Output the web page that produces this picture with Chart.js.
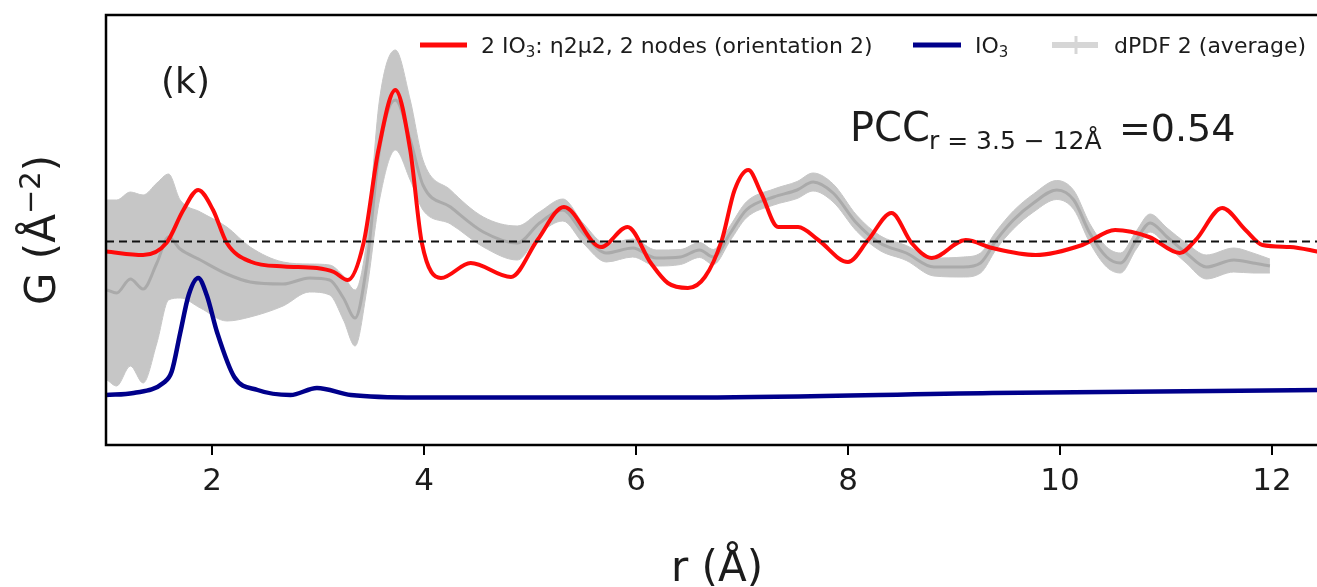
<!DOCTYPE html>
<html>
<head>
<meta charset="utf-8">
<script src="https://cdn.jsdelivr.net/npm/chart.js@4.4.1/dist/chart.umd.min.js"></script>
<style>
  html, body { margin: 0; padding: 0; background: #fff; overflow: hidden; }
  canvas { display: block; }
</style>
</head>
<body>
<canvas id="pdf" width="1340" height="587"></canvas>
<script>
// r (Å) and G values (G in arbitrary units, 0 = dashed line)
const redR = [1.00,1.35,1.57,1.73,1.87,2.01,2.14,2.36,2.68,2.99,3.15,3.28,3.43,3.57,3.73,3.87,3.98,4.16,4.44,4.82,5.07,5.32,5.67,5.92,6.14,6.30,6.49,6.65,6.81,6.93,7.06,7.18,7.34,7.53,7.72,8.00,8.19,8.41,8.60,8.79,9.11,9.36,9.77,10.21,10.52,10.84,11.13,11.28,11.53,11.75,11.91,12.17,12.45];
const redG = [-0.20,-0.27,-0.03,0.63,1.03,0.63,-0.03,-0.40,-0.50,-0.53,-0.61,-0.77,-0.03,1.83,3.03,1.83,-0.03,-0.73,-0.43,-0.71,0.03,0.69,-0.11,0.29,-0.43,-0.83,-0.93,-0.71,0.03,1.03,1.43,0.97,0.29,0.29,0.03,-0.41,0.03,0.57,-0.03,-0.33,0.03,-0.13,-0.27,-0.07,0.23,0.09,-0.23,0.03,0.67,0.23,-0.07,-0.11,-0.21];

const blueR = [1.00,1.26,1.54,1.62,1.70,1.78,1.87,1.95,2.05,2.21,2.43,2.74,2.99,3.31,3.94,6.62,9.36,12.45];
const blueG = [-3.07,-3.03,-2.83,-2.60,-1.83,-1.07,-0.73,-1.07,-1.83,-2.71,-2.97,-3.07,-2.93,-3.07,-3.12,-3.12,-3.03,-2.97];

const dpdfR = [1.01,1.10,1.23,1.35,1.48,1.59,1.70,1.89,2.14,2.36,2.67,2.92,3.11,3.24,3.35,3.46,3.58,3.73,3.87,3.99,4.25,4.56,4.88,5.09,5.31,5.50,5.72,5.97,6.19,6.42,6.60,6.73,6.89,7.04,7.30,7.52,7.67,7.86,8.08,8.30,8.55,8.81,9.09,9.25,9.40,9.56,9.75,9.97,10.13,10.28,10.44,10.57,10.72,10.85,11.01,11.19,11.38,11.64,11.82,11.98];
const dpdfG = [-0.97,-1.03,-0.75,-0.95,-0.43,0.09,-0.15,-0.37,-0.65,-0.81,-0.85,-0.73,-0.77,-1.13,-1.53,-0.47,1.83,2.83,2.03,1.13,0.69,0.19,-0.03,0.37,0.63,0.17,-0.23,-0.13,-0.33,-0.31,-0.17,-0.31,0.17,0.63,0.89,1.03,1.19,0.97,0.37,-0.03,-0.23,-0.51,-0.51,-0.43,0.03,0.43,0.77,1.03,0.83,0.17,-0.31,-0.43,0.03,0.37,0.09,-0.23,-0.51,-0.37,-0.43,-0.49];
const dpdfErr = [1.80,1.86,1.74,1.88,1.60,1.26,0.98,0.96,0.94,0.70,0.44,0.28,0.30,0.44,0.56,0.50,1.00,1.00,0.80,0.50,0.34,0.30,0.34,0.22,0.22,0.20,0.18,0.18,0.16,0.15,0.15,0.15,0.15,0.16,0.16,0.17,0.18,0.18,0.16,0.15,0.15,0.18,0.20,0.20,0.18,0.18,0.18,0.19,0.19,0.19,0.20,0.20,0.18,0.18,0.18,0.20,0.24,0.24,0.20,0.14];

const xTicks = [2, 4, 6, 8, 10, 12];

const FONT = '"DejaVu Sans", "Liberation Sans", sans-serif';
const INK = '#1c1c1c';
const RED = '#ff0a0a';
const BLUE = '#00008b';
const BAND = '#c6c6c6';
const MEAN = '#aaaaaa';

const pts = (xs, ys) => xs.map((x, i) => ({ x: x, y: ys[i] }));

// draw a run of text pieces with different sizes / baseline shifts
function drawParts(ctx, x, y, parts) {
    for (const p of parts) {
        ctx.font = p.size + 'px ' + FONT;
        ctx.fillText(p.t, x, y + (p.dy || 0));
        x += ctx.measureText(p.t).width;
    }
    return x;
}
function partsWidth(ctx, parts) {
    let w = 0;
    for (const p of parts) {
        ctx.font = p.size + 'px ' + FONT;
        w += ctx.measureText(p.t).width;
    }
    return w;
}

const decorPlugin = {
    id: 'decor',
    afterDatasetsDraw(chart) {
        const { ctx, chartArea: a, scales: { y } } = chart;
        const y0 = y.getPixelForValue(0);
        ctx.save();
        ctx.strokeStyle = '#111';
        ctx.lineWidth = 2;
        ctx.setLineDash([8, 5]);
        ctx.beginPath();
        ctx.moveTo(a.left, y0);
        ctx.lineTo(a.right, y0);
        ctx.stroke();
        ctx.restore();
    },
    afterDraw(chart) {
        const { ctx, chartArea: a } = chart;
        ctx.save();
        // frame (right edge falls outside the window)
        ctx.strokeStyle = '#000';
        ctx.lineWidth = 2.5;
        ctx.beginPath();
        ctx.moveTo(a.right + 5, a.top);
        ctx.lineTo(a.left, a.top);
        ctx.lineTo(a.left, a.bottom);
        ctx.lineTo(a.right + 5, a.bottom);
        ctx.stroke();

        ctx.fillStyle = INK;
        ctx.textBaseline = 'alphabetic';

        // panel tag
        ctx.font = '36px ' + FONT;
        ctx.fillText('(k)', 161, 93);

        // legend
        ctx.lineCap = 'butt';
        ctx.lineWidth = 5;
        ctx.strokeStyle = RED;
        ctx.beginPath(); ctx.moveTo(420, 45); ctx.lineTo(467, 45); ctx.stroke();
        drawParts(ctx, 481, 53, [
            { t: '2 IO', size: 22 }, { t: '3', size: 15, dy: 4 },
            { t: ': η2μ2, 2 nodes (orientation 2)', size: 22 }
        ]);
        ctx.strokeStyle = BLUE;
        ctx.beginPath(); ctx.moveTo(913, 45); ctx.lineTo(961, 45); ctx.stroke();
        drawParts(ctx, 975, 53, [{ t: 'IO', size: 22 }, { t: '3', size: 15, dy: 4 }]);
        ctx.strokeStyle = '#d6d6d6';
        ctx.lineWidth = 6;
        ctx.beginPath(); ctx.moveTo(1052, 45); ctx.lineTo(1098, 45); ctx.stroke();
        ctx.lineWidth = 3;
        ctx.beginPath(); ctx.moveTo(1076, 36); ctx.lineTo(1076, 54); ctx.stroke();
        drawParts(ctx, 1114, 53, [{ t: 'dPDF 2 (average)', size: 22 }]);

        // correlation annotation
        drawParts(ctx, 850, 141, [{ t: 'PCC', size: 40 }]);
        drawParts(ctx, 929, 149, [{ t: 'r = 3.5 − 12Å', size: 25 }]);
        drawParts(ctx, 1119, 141, [{ t: '=0.54', size: 38 }]);

        // x axis title
        const xt = [{ t: 'r (Å)', size: 42 }];
        drawParts(ctx, 717 - partsWidth(ctx, xt) / 2, 581, xt);

        // y axis title, rotated
        const yt = [{ t: 'G (Å', size: 42 }, { t: '−2', size: 29, dy: -15 }, { t: ')', size: 42 }];
        ctx.translate(40, 230);
        ctx.rotate(-Math.PI / 2);
        drawParts(ctx, -partsWidth(ctx, yt) / 2, 15, yt);
        ctx.restore();
    }
};

const upper = dpdfG.map((g, i) => g + dpdfErr[i]);
const lower = dpdfG.map((g, i) => g - dpdfErr[i]);

new Chart(document.getElementById('pdf').getContext('2d'), {
    type: 'line',
    data: {
        datasets: [
            {
                label: '2 IO3: η2μ2, 2 nodes (orientation 2)',
                data: pts(redR, redG),
                borderColor: RED,
                borderWidth: 4,
                cubicInterpolationMode: 'monotone'
            },
            {
                label: 'IO3',
                data: pts(blueR, blueG),
                borderColor: BLUE,
                borderWidth: 4.5,
                cubicInterpolationMode: 'monotone'
            },
            {
                label: 'dPDF 2 (average)',
                data: pts(dpdfR, dpdfG),
                borderColor: MEAN,
                borderWidth: 3,
                cubicInterpolationMode: 'monotone'
            },
            {
                label: 'upper',
                data: pts(dpdfR, upper),
                borderColor: BAND,
                borderWidth: 1,
                cubicInterpolationMode: 'monotone'
            },
            {
                label: 'lower',
                data: pts(dpdfR, lower),
                borderColor: BAND,
                borderWidth: 1,
                backgroundColor: BAND,
                fill: '-1',
                cubicInterpolationMode: 'monotone'
            }
        ]
    },
    options: {
        responsive: false,
        animation: false,
        events: [],
        layout: { padding: { left: 106, top: 15, right: 15, bottom: 0 } },
        elements: { point: { radius: 0 } },
        plugins: { legend: { display: false }, tooltip: { enabled: false } },
        scales: {
            x: {
                type: 'linear',
                min: 1,
                max: 12.5,
                afterFit: scale => { scale.height = 142; },
                afterBuildTicks: axis => { axis.ticks = xTicks.map(v => ({ value: v })); },
                border: { display: false },
                grid: { display: true, drawOnChartArea: false, drawTicks: true, tickLength: 10, color: '#000', lineWidth: 2 },
                ticks: { font: { family: FONT, size: 31 }, color: INK, padding: 8, maxRotation: 0, autoSkip: false }
            },
            y: { display: false, min: -4.07, max: 4.53 }
        }
    },
    plugins: [decorPlugin]
});
</script>
</body>
</html>
